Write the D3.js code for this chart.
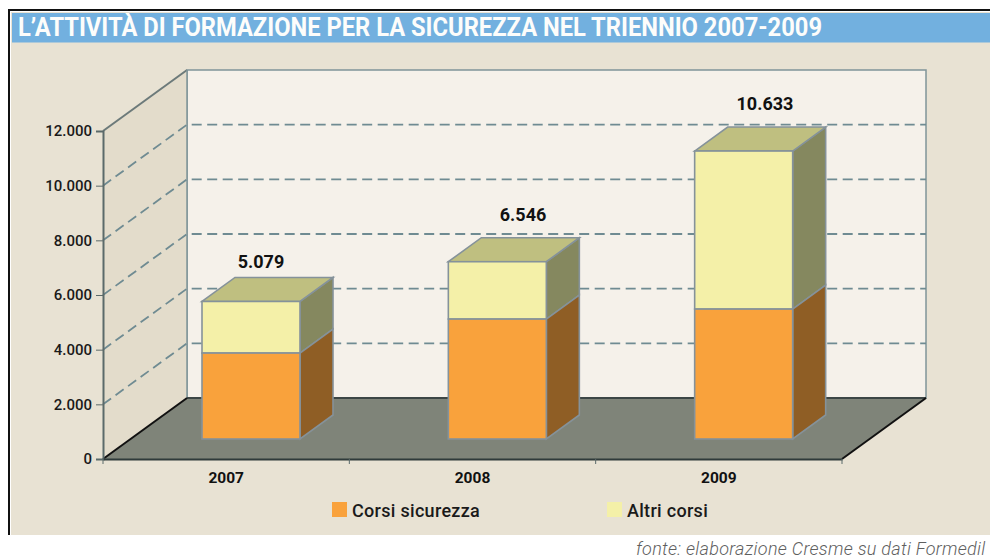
<!DOCTYPE html>
<html>
<head>
<meta charset="utf-8">
<script src="https://cdnjs.cloudflare.com/ajax/libs/d3/7.8.5/d3.min.js"></script>
<style>
  html, body { margin: 0; padding: 0; background: #fff; overflow: hidden; }
  svg { display: block; }
  text { font-family: Roboto, "Noto Sans", sans-serif; }
</style>
</head>
<body>
<div id="chart"></div>
<script>
// values
const years = ["2007", "2008", "2009"]
const corsiSicurezza = [3173, 4428, 4797]
const altriCorsi = [1906, 2118, 5836]
const totalLabels = ["5.079", "6.546", "10.633"]
const yTicks = [0, 2000, 4000, 6000, 8000, 10000, 12000]
const seriesNames = ["Corsi sicurezza", "Altri corsi"]

const width = 990, height = 558

const svg = d3.select("#chart").append("svg")
    .attr("width", width)
    .attr("height", height)

// page panel and title
svg.append("rect").attr("x", 11).attr("y", 12).attr("width", width).attr("height", 523).attr("fill", "#e8e2d3")
svg.append("path").attr("d", "M9,535V10H990").attr("fill", "none").attr("stroke", "#111").attr("stroke-width", 2)
svg.append("rect").attr("x", 12).attr("y", 13).attr("width", width).attr("height", 29.5).attr("fill", "#72b0df")
svg.append("text")
    .attr("x", 18).attr("y", 36)
    .attr("fill", "#fdfdfb")
    .style("font-size", "25px")
    .style("font-weight", 700)
    .attr("textLength", 804)
    .attr("lengthAdjust", "spacingAndGlyphs")
    .text("L’ATTIVITÀ DI FORMAZIONE PER LA SICUREZZA NEL TRIENNIO 2007-2009")

// scales
const x = d3.scaleBand().domain(years).range([103, 842])
const y = d3.scaleLinear().domain([0, 12000]).range([459, 131])

// wall and floor depth, then the depth of the boxes
const depth = {x: 84, y: -61}
const boxDepth = {x: 33, y: -24}

// bars stand on the floor, a little behind the front edge
const barBase = 439
const yBar = d3.scaleLinear().domain([0, 12000]).range([barBase, barBase - 325])
const barOffset = 99
const barWidth = 98

// the total labels are not centred the same way over each box
const labelNudge = [{x: 59, y: -33.5}, {x: 74.7, y: -41}, {x: 70.3, y: -41}]

const line = d3.line()
const plotTop = y(12000), plotBottom = y(0)
const x0 = x.range()[0], x1 = x.range()[1]

// back wall
svg.append("rect")
    .attr("x", x0 + depth.x).attr("y", plotTop + depth.y)
    .attr("width", x1 - x0).attr("height", plotBottom - plotTop)
    .attr("fill", "#f5f1ea")
    .attr("stroke", "#7f9499").attr("stroke-width", 1.5)

// side wall
svg.append("path")
    .attr("d", line([[x0, plotTop], [x0 + depth.x, plotTop + depth.y], [x0 + depth.x, plotBottom + depth.y], [x0, plotBottom]]))
    .attr("fill", "#e3dccb")
svg.append("path")
    .attr("d", line([[x0, plotTop], [x0 + depth.x, plotTop + depth.y]]))
    .attr("stroke", "#6c7a7a").attr("stroke-width", 2)
svg.append("path")
    .attr("d", line([[x0 + depth.x, plotTop + depth.y], [x0 + depth.x, plotBottom + depth.y]]))
    .attr("stroke", "#7f9499").attr("stroke-width", 1.5)

// dashed gridlines
yTicks.filter(d => d > 0 && d < 12000).forEach(d => {
    svg.append("path")
        .attr("d", line([[x0, y(d)], [x0 + depth.x, y(d) + depth.y], [x1 + depth.x, y(d) + depth.y]]))
        .attr("fill", "none")
        .attr("stroke", "#6f8b92")
        .attr("stroke-width", 1.8)
        .attr("stroke-dasharray", "10,5.5")
})

// floor
svg.append("path")
    .attr("d", line([[x0, plotBottom], [x0 + depth.x, plotBottom + depth.y], [x1 + depth.x, plotBottom + depth.y], [x1, plotBottom]]) + "Z")
    .attr("fill", "#7f8479")
svg.append("path")
    .attr("d", line([[x0 + depth.x, plotBottom + depth.y], [x1 + depth.x, plotBottom + depth.y]]))
    .attr("stroke", "#3c4645").attr("stroke-width", 2)
svg.append("path")
    .attr("d", line([[x0, plotBottom], [x0 + depth.x, plotBottom + depth.y]]))
    .attr("stroke", "#111").attr("stroke-width", 2)
svg.append("path")
    .attr("d", line([[x1, plotBottom], [x1 + depth.x, plotBottom + depth.y]]))
    .attr("stroke", "#111").attr("stroke-width", 2)

// axes
const yAxis = d3.axisLeft(y)
    .tickValues(yTicks)
    .tickSize(7)
    .tickPadding(4)
    .tickFormat(d => d === 0 ? "0" : d3.format(",")(d).replace(",", "."))

svg.append("g")
    .attr("transform", `translate(${x0},0)`)
    .call(yAxis)
    .call(g => g.select(".domain").attr("stroke", "#5b6a6a").attr("stroke-width", 2))
    .call(g => g.selectAll("line").attr("stroke", "#5b6a6a"))
    .call(g => g.selectAll("text").attr("fill", "#1a1a1a").style("font-size", "15px").style("font-weight", 500))

const xAxis = d3.axisBottom(x).tickSize(0).tickPadding(13)
svg.append("g")
    .attr("transform", `translate(0,${plotBottom})`)
    .call(xAxis)
    .call(g => g.select(".domain").attr("stroke", "#2f3a3a").attr("stroke-width", 2))
    .call(g => g.selectAll("text").attr("fill", "#111").style("font-size", "15.5px").style("font-weight", 700))

// tick marks between the categories
svg.selectAll(".cat-tick")
    .data(years.concat(["end"]))
    .enter()
    .append("line")
    .attr("class", "cat-tick")
    .attr("x1", (d, i) => x0 + i * x.bandwidth())
    .attr("x2", (d, i) => x0 + i * x.bandwidth())
    .attr("y1", plotBottom)
    .attr("y2", plotBottom + 5)
    .attr("stroke", "#5b6a6a")

// one box: front, side and optional lid
function drawBox(g, left, yTop, yBottom, colors, lid) {
    const right = left + barWidth
    g.append("path")
        .attr("d", line([[right, yTop], [right + boxDepth.x, yTop + boxDepth.y], [right + boxDepth.x, yBottom + boxDepth.y], [right, yBottom]]) + "Z")
        .attr("fill", colors.side).attr("stroke", "#85929a").attr("stroke-width", 1.6)
    if (lid) {
        g.append("path")
            .attr("d", line([[left, yTop], [left + boxDepth.x, yTop + boxDepth.y], [right + boxDepth.x, yTop + boxDepth.y], [right, yTop]]) + "Z")
            .attr("fill", colors.lid).attr("stroke", "#85929a").attr("stroke-width", 1.6)
    }
    g.append("rect")
        .attr("x", left).attr("y", yTop)
        .attr("width", barWidth).attr("height", yBottom - yTop)
        .attr("fill", colors.front).attr("stroke", "#85929a").attr("stroke-width", 1.6)
}

const orange = {front: "#f9a23c", side: "#8f5e25"}
const yellow = {front: "#f4f0a8", side: "#85885f", lid: "#bfbf80"}

years.forEach((yr, i) => {
    const g = svg.append("g").attr("class", "bar-" + yr)
    const left = x(yr) + barOffset
    const a = corsiSicurezza[i], b = altriCorsi[i]
    drawBox(g, left, yBar(a + b), yBar(a), yellow, true)
    drawBox(g, left, yBar(a), yBar(0), orange, false)
    svg.append("text")
        .attr("x", left + labelNudge[i].x)
        .attr("y", yBar(a + b) + labelNudge[i].y)
        .attr("text-anchor", "middle")
        .attr("fill", "#111")
        .style("font-size", "18px")
        .style("font-weight", 700)
        .text(totalLabels[i])
})

// legend
const legend = svg.selectAll(".legend-item")
    .data(seriesNames)
    .enter()
    .append("g")
    .attr("class", "legend-item")
    .attr("transform", (d, i) => `translate(${i === 0 ? 332 : 607},502)`)
legend.append("rect")
    .attr("width", 15).attr("height", 15)
    .attr("fill", (d, i) => i === 0 ? orange.front : yellow.front)
legend.append("text")
    .attr("x", 20).attr("y", 14.5)
    .attr("fill", "#1a1a1a")
    .style("font-size", "18px")
    .style("letter-spacing", "0.3px")
    .style("font-weight", 500)
    .text(d => d)

// source, runs off the right edge like in the original
svg.append("text")
    .attr("x", 636).attr("y", 555)
    .attr("fill", "#5f5f5f")
    .style("font-size", "18px")
    .style("letter-spacing", "0.3px")
    .style("font-style", "italic")
    .style("font-weight", 300)
    .text("fonte: elaborazione Cresme su dati Formedil")
</script>
</body>
</html>
